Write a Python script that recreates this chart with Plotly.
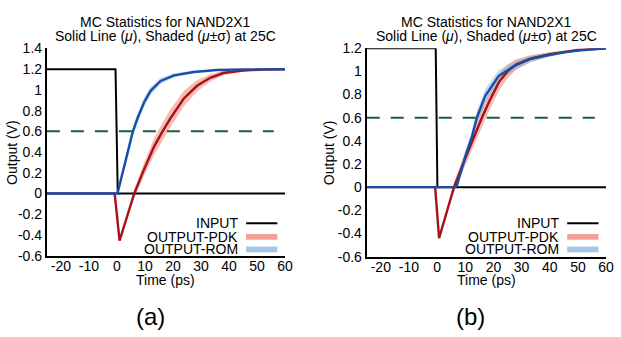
import numpy as np
import plotly.graph_objects as go

# ---------------- data ----------------
# panel (a)
a_t_in = [-25, -0.5, 0.3, 60]
a_v_in = [1.2, 1.2, 0, 0]

a_t_rom = [-25, 0.2, 1.2, 2.7, 4.5, 5.6, 7.4, 9.8, 12.1, 15.6, 20.4, 27.4, 35.6, 45, 60]
a_v_rom = [0, 0, 0.11, 0.27, 0.45, 0.59, 0.73, 0.886, 0.994, 1.087, 1.14, 1.173, 1.192, 1.198, 1.2]
a_s_rom = [0, 0, 0.015, 0.03, 0.045, 0.05, 0.05, 0.045, 0.04, 0.03, 0.02, 0.012, 0.006, 0.002, 0]

a_t_pdk = [-25, -0.8, 0.95, 3.5, 6.2, 9.8, 13.3, 16.2, 19.2, 23.9, 28.6, 33.3, 38, 45, 52, 60]
a_v_pdk = [0, 0, -0.455, -0.234, 0, 0.24, 0.455, 0.594, 0.73, 0.917, 1.04, 1.117, 1.163, 1.187, 1.197, 1.2]
a_s_pdk = [0, 0, 0, 0.02, 0.04, 0.065, 0.08, 0.085, 0.085, 0.075, 0.055, 0.035, 0.022, 0.01, 0.004, 0]

# panel (b)
b_t_in = [-25, -0.5, 0.1, 60]
b_v_in = [1.2, 1.2, 0, 0]

b_t_rom = [-25, 6.5, 7.1, 8.5, 10.1, 12.4, 14.1, 17.1, 21.8, 27.6, 33.4, 39.3, 45, 50, 55, 60]
b_v_rom = [0, 0, 0.02, 0.14, 0.27, 0.44, 0.6, 0.79, 0.96, 1.05, 1.11, 1.14, 1.165, 1.18, 1.193, 1.2]
b_s_rom = [0, 0, 0.008, 0.03, 0.045, 0.055, 0.06, 0.06, 0.05, 0.04, 0.028, 0.018, 0.012, 0.007, 0.003, 0]

b_t_pdk = [-25, -0.7, 0.7, 3.5, 6, 10, 12.8, 15.9, 18.5, 22, 25, 28, 33, 40, 50, 60]
b_v_pdk = [0, 0, -0.44, -0.208, 0, 0.25, 0.42, 0.6, 0.74, 0.91, 1.0, 1.06, 1.11, 1.15, 1.185, 1.2]
b_s_pdk = [0, 0, 0, 0.015, 0.04, 0.065, 0.075, 0.08, 0.08, 0.075, 0.06, 0.045, 0.03, 0.018, 0.007, 0]

threshold_t = [-25, 56]
threshold_v = [0.6, 0.6]

x_ticks = [-20, -10, 0, 10, 20, 30, 40, 50, 60]
a_y_ticks = [-0.6, -0.4, -0.2, 0, 0.2, 0.4, 0.6, 0.8, 1, 1.2, 1.4]
a_y_text = ["-0.6", "-0.4", "-0.2", "0", "0.2", "0.4", "0.6", "0.8", "1", "1.2", "1.4"]
b_y_ticks = a_y_ticks[:-1]
b_y_text = a_y_text[:-1]
x_text = [str(v) for v in x_ticks]

title1 = "MC Statistics for NAND2X1"
title2 = "Solid Line (<i>μ</i>), Shaded (<i>μ</i>±σ) at 25C"
legend_names = ["INPUT", "OUTPUT-PDK", "OUTPUT-ROM"]

# ---------------- style ----------------
W, H = 621, 337
FONT = "Arial"
RED_LINE = "rgb(165,18,25)"
RED_BAND = "rgba(240,105,85,0.45)"
BLUE_LINE = "rgb(20,80,170)"
BLUE_BAND = "rgba(120,175,220,0.42)"
GREEN = "rgb(22,95,55)"
LEG_RED = "rgb(245,160,150)"
LEG_BLUE = "rgb(165,200,230)"


def px(x):
    return x / W


def py(y):
    return 1 - y / H


fig = go.Figure()


def band(t, v, s, color, xa, ya):
    t = np.array(t, float)
    v = np.array(v, float)
    s = np.array(s, float)
    xs = np.concatenate([t, t[::-1]])
    ys = np.concatenate([v + s, (v - s)[::-1]])
    fig.add_trace(go.Scatter(x=xs, y=ys, fill="toself", fillcolor=color, line=dict(width=0),
                             mode="lines", hoverinfo="skip", showlegend=False, xaxis=xa, yaxis=ya))


def line(t, v, color, width, xa, ya, dash=None):
    fig.add_trace(go.Scatter(x=t, y=v, mode="lines", line=dict(color=color, width=width, dash=dash),
                             showlegend=False, xaxis=xa, yaxis=ya))


# panel a
band(a_t_pdk, a_v_pdk, a_s_pdk, RED_BAND, "x", "y")
band(a_t_rom, a_v_rom, a_s_rom, BLUE_BAND, "x", "y")
line(threshold_t, threshold_v, GREEN, 2, "x", "y", dash="13px,11px")
line(a_t_in, a_v_in, "black", 2, "x", "y")
line(a_t_pdk, a_v_pdk, RED_LINE, 2.4, "x", "y")
line(a_t_rom, a_v_rom, BLUE_LINE, 2.4, "x", "y")

# panel b
band(b_t_pdk, b_v_pdk, b_s_pdk, RED_BAND, "x2", "y2")
band(b_t_rom, b_v_rom, b_s_rom, BLUE_BAND, "x2", "y2")
line(threshold_t, threshold_v, GREEN, 2, "x2", "y2", dash="13px,11px")
line(b_t_in, b_v_in, "black", 2, "x2", "y2")
line(b_t_pdk, b_v_pdk, RED_LINE, 2.4, "x2", "y2")
line(b_t_rom, b_v_rom, BLUE_LINE, 2.4, "x2", "y2")

axis_common = dict(showline=True, linecolor="black", linewidth=2, ticks="", showgrid=False,
                   zeroline=False, tickfont=dict(family=FONT, size=14, color="black"), mirror=False)

a_left, a_right = 47.5, 288.7
b_left, b_right = 371.5, 614
a_top, a_bot = 42.5, 260
b_top, b_bot = 42.3, 261

fig.update_layout(
    width=W, height=H, margin=dict(l=0, r=0, t=0, b=0),
    paper_bgcolor="white", plot_bgcolor="white", showlegend=False,
    font=dict(family=FONT, color="black"),
    xaxis=dict(domain=[px(a_left), px(a_right)], range=[-25, 60], tickvals=x_ticks, ticktext=x_text,
               anchor="y", ticklabelstandoff=-3, **axis_common),
    yaxis=dict(domain=[py(a_bot), py(a_top)], range=[-0.6, 1.4], tickvals=a_y_ticks, ticktext=a_y_text,
               anchor="x", **axis_common),
    xaxis2=dict(domain=[px(b_left), px(b_right)], range=[-25, 60], tickvals=x_ticks, ticktext=x_text,
                anchor="y2", ticklabelstandoff=-3, **axis_common),
    yaxis2=dict(domain=[py(b_bot), py(b_top)], range=[-0.6, 1.2], tickvals=b_y_ticks, ticktext=b_y_text,
                anchor="x2", **axis_common),
)

ann = []
shapes = []


def text(x, y, s, size, xanchor="center", angle=0):
    ann.append(dict(x=px(x), y=py(y), xref="paper", yref="paper", text=s, showarrow=False,
                    font=dict(family=FONT, size=size, color="black"), xanchor=xanchor, yanchor="middle",
                    textangle=angle))


for (l, r, top, bot, ylab_x, cap, cap_x) in [
    (a_left, a_right, a_top, a_bot, 12, "(a)", 152),
    (b_left, b_right, b_top, b_bot, 334, "(b)", 477),
]:
    cx = (l + r) / 2
    text(cx, 15, title1, 14)
    text(cx, 29.5, title2, 14)
    text(cx, 286, "Time (ps)", 14)
    text(ylab_x, (top + bot) / 2, "Output (V)", 14, angle=-90)
    text(cap_x, 324, cap, 24)
    # manual legend (text right-aligned, swatch to the right)
    sx0, sx1 = r - 39.4, r - 7.7
    rows = [226, 240.3, 253.5]
    for name, ry in zip(legend_names, rows):
        text(sx0 - 6.5, ry, name, 14, xanchor="right")
    shapes.append(dict(type="line", xref="paper", yref="paper", x0=px(sx0), x1=px(sx1),
                       y0=py(rows[0]), y1=py(rows[0]), line=dict(color="black", width=2)))
    shapes.append(dict(type="rect", xref="paper", yref="paper", x0=px(sx0), x1=px(sx1),
                       y0=py(rows[1] + 3), y1=py(rows[1] - 3), line=dict(width=0), fillcolor=LEG_RED))
    shapes.append(dict(type="rect", xref="paper", yref="paper", x0=px(sx0), x1=px(sx1),
                       y0=py(rows[2] + 3), y1=py(rows[2] - 3), line=dict(width=0), fillcolor=LEG_BLUE))

fig.update_layout(annotations=ann, shapes=shapes)
fig.write_html("out.html")
